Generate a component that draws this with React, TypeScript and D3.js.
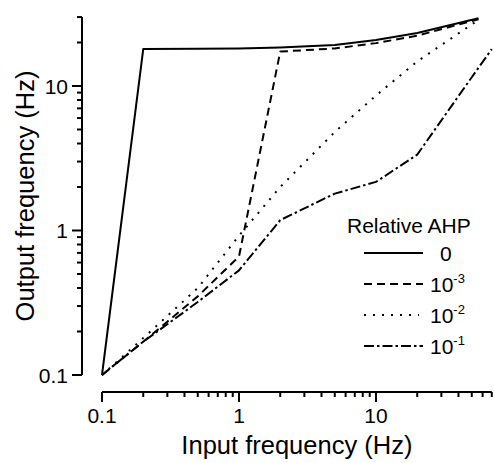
import React from 'react';
import * as d3 from 'd3';

// ---- data ----
const inputMain = [0.1, 0.2, 0.5, 1, 2, 5, 10, 20, 56];
const inputAhp1 = [0.1, 0.2, 0.5, 1, 2, 5, 10, 20, 50, 70];
const outAhp0 = [0.1, 18, 18.1, 18.2, 18.5, 19.2, 20.8, 23.3, 29.4];
const outAhp3 = [0.1, 0.17, 0.35, 0.66, 17.3, 18.2, 19.8, 22.3, 29.0];
const outAhp2 = [0.1, 0.18, 0.4, 0.92, 2.0, 4.8, 8.6, 14.8, 28.7];
const outAhp1 = [0.1, 0.17, 0.32, 0.53, 1.18, 1.8, 2.17, 3.35, 11.5, 18];

const xTickLabels = ['0.1', '1', '10'];
const yTickLabels = ['0.1', '1', '10'];
const legendTitle = 'Relative AHP';
const legendBase = ['0', '10', '10', '10'];
const legendExp = ['', '-3', '-2', '-1'];
const xTitle = 'Input frequency (Hz)';
const yTitle = 'Output frequency (Hz)';

const W = 494;
const H = 463;
const FONT = '"Liberation Sans", Arial, Helvetica, sans-serif';

export default function App() {
  const x = d3.scaleLog().domain([0.1, 70]).range([102, 102 + Math.log10(700) * 137]);
  const y = d3.scaleLog().domain([0.1, 30]).range([375, 375 - Math.log10(300) * 144.5]);

  const series = [
    { xs: inputMain, ys: outAhp0, dash: undefined as string | undefined },
    { xs: inputMain, ys: outAhp3, dash: '8,5' },
    { xs: inputMain, ys: outAhp2, dash: '2,7' },
    { xs: inputAhp1, ys: outAhp1, dash: '10,3,2.5,3' },
  ];

  const line = d3
    .line<[number, number]>()
    .x((d) => x(d[0]))
    .y((d) => y(d[1]));

  const xAxisY = 392;
  const yAxisX = 82;
  const xTicks = x.ticks();
  const yTicks = y.ticks();
  const isMajor = (v: number) => Math.abs(Math.log10(v) - Math.round(Math.log10(v))) < 1e-9;

  const legendX0 = 364;
  const legendX1 = 423;
  const legendYs = [253, 284, 315, 346];

  return (
    <svg
      width={W}
      height={H}
      style={{ position: 'absolute', left: 0, top: 0, background: '#fff' }}
      fontFamily={FONT}
    >
      <rect x={0} y={0} width={W} height={H} fill="#fff" />
      {/* y axis */}
      <line x1={yAxisX} x2={yAxisX} y1={y(0.1)} y2={y(30)} stroke="#000" strokeWidth={2} />
      {yTicks.map((t, i) => (
        <line
          key={'yt' + i}
          x1={yAxisX}
          x2={yAxisX - (isMajor(t) ? 10 : 5)}
          y1={y(t)}
          y2={y(t)}
          stroke="#000"
          strokeWidth={2}
        />
      ))}
      {yTickLabels.map((l, i) => (
        <text
          key={'yl' + i}
          x={68}
          y={y(+l)}
          dy="0.36em"
          textAnchor="end"
          fontSize={21}
          fill="#000"
        >
          {l}
        </text>
      ))}
      <text
        transform={`translate(34,${(y(0.1) + y(30)) / 2}) rotate(-90)`}
        textAnchor="middle"
        fontSize={25.5}
        fill="#000"
      >
        {yTitle}
      </text>

      {/* x axis */}
      <line x1={x(0.1)} x2={x(70)} y1={xAxisY} y2={xAxisY} stroke="#000" strokeWidth={2} />
      {xTicks.map((t, i) => (
        <line
          key={'xt' + i}
          x1={x(t)}
          x2={x(t)}
          y1={xAxisY}
          y2={xAxisY + (isMajor(t) ? 10 : 5)}
          stroke="#000"
          strokeWidth={2}
        />
      ))}
      {xTickLabels.map((l, i) => (
        <text key={'xl' + i} x={x(+l)} y={423} textAnchor="middle" fontSize={21} fill="#000">
          {l}
        </text>
      ))}
      <text x={(x(0.1) + x(70)) / 2} y={454} textAnchor="middle" fontSize={25.5} fill="#000">
        {xTitle}
      </text>

      {/* data */}
      {series.map((s, i) => (
        <path
          key={'s' + i}
          d={line(s.xs.map((v, j) => [v, s.ys[j]] as [number, number])) || ''}
          fill="none"
          stroke="#000"
          strokeWidth={2}
          strokeDasharray={s.dash}
          strokeLinejoin="round"
        />
      ))}

      {/* legend */}
      <text x={347} y={233} fontSize={21} fill="#000">
        {legendTitle}
      </text>
      {series.map((s, i) => (
        <g key={'lg' + i}>
          <line
            x1={legendX0}
            x2={s.dash === '2,7' ? legendX1 - 4 : legendX1}
            y1={legendYs[i]}
            y2={legendYs[i]}
            stroke="#000"
            strokeWidth={2}
            strokeDasharray={s.dash}
          />
          <text
            x={legendExp[i] ? 430 : 440}
            y={legendYs[i] + 8}
            fontSize={21}
            fill="#000"
          >
            {legendBase[i]}
            {legendExp[i] ? (
              <tspan fontSize={13} dy={-9}>
                {legendExp[i]}
              </tspan>
            ) : null}
          </text>
        </g>
      ))}
    </svg>
  );
}
